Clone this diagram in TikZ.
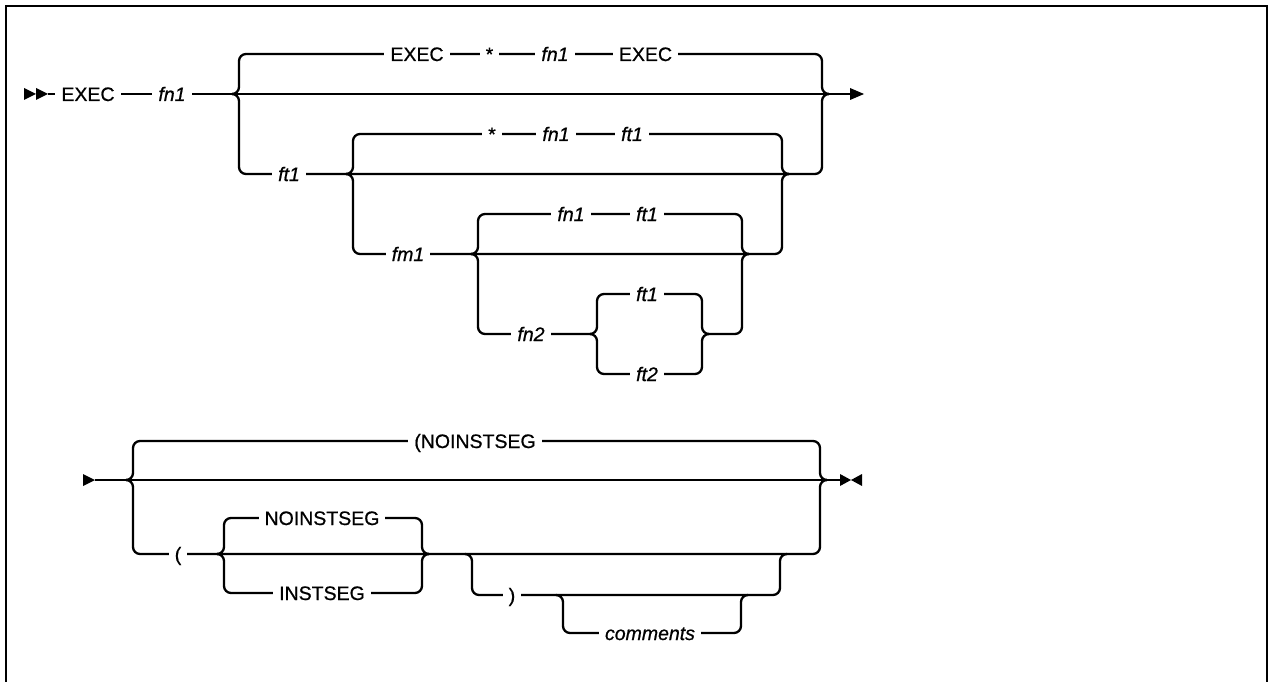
\documentclass[tikz,border=0pt]{standalone}
\usepackage{fontspec}
\setmainfont{Liberation Sans}[FakeBold=0.7]
\newcommand\kwfont{\fontsize{19.5}{22}\selectfont}
\tikzset{
  rail/.style={line width=2.3pt, rounded corners=7pt},
  kw/.style={fill=white, inner xsep=6pt, inner ysep=2pt, text height=14pt, text depth=0pt, font=\kwfont},
  var/.style={kw, font=\kwfont\itshape},
  tipfill/.style={fill=black, draw=none},
}
\begin{document}
\begin{tikzpicture}[x=1pt,y=-1pt]
\useasboundingbox (0,0) rectangle (1274,682);
\clip (0,0) rectangle (1274,682);
\fill[white] (0,0) rectangle (1274,682);
\draw[line width=2.6pt] (6,6) rectangle (1267,720);

% ---------- row 1 ----------
\coordinate (s1) at (48,94);
\coordinate (e1) at (852,94);
\fill[tipfill] (24,88) -- (36,94) -- (24,100) -- cycle;
\fill[tipfill] (36,88) -- (48,94) -- (36,100) -- cycle;
\draw[rail] (s1) -- (e1);
\fill[tipfill] (850,88) -- (864,94) -- (850,100) -- cycle;

% A split
\draw[rail] (232,94) -| (239,54) -- (822,54) |- (829,94);
\draw[rail] (232,94) -| (239,174) -- (822,174) |- (829,94);
% C split
\draw[rail] (346,174) -| (353,134) -- (782,134) |- (789,174);
\draw[rail] (346,174) -| (353,254) -- (782,254) |- (789,174);
% D split
\draw[rail] (471,254) -| (478,214) -- (742,214) |- (749,254);
\draw[rail] (471,254) -| (478,334) -- (590,334);
\draw[rail] (709,334) -- (742,334) |- (749,254);
% E split
\draw[rail] (590,334) -| (597,294) -- (702,294) |- (709,334);
\draw[rail] (590,334) -| (597,374) -- (702,374) |- (709,334);

\node[kw]  (exec0) at (88,94) {EXEC};
\node[var] (fn0)   at (172,94) {fn1};
\node[kw]  (execa) at (417,54) {EXEC};
\node[kw]  (stara) at (489.5,54) {*};
\node[var] (fna)   at (555,54) {fn1};
\node[kw]  (execb) at (645.5,54) {EXEC};
\node[var] (fta)   at (289,174) {ft1};
\node[kw]  (starc) at (492,134) {*};
\node[var] (fnc)   at (556,134) {fn1};
\node[var] (ftc)   at (632,134) {ft1};
\node[var] (fmd)   at (408,254) {fm1};
\node[var] (fnd)   at (571,214) {fn1};
\node[var] (ftd)   at (647,214) {ft1};
\node[var] (fn2)   at (531,334) {fn2};
\node[var] (fte)   at (647,294) {ft1};
\node[var] (ft2)   at (647,374) {ft2};

% ---------- row 2 ----------
\coordinate (s2) at (95,480);
\coordinate (e2) at (841,480);
\fill[tipfill] (83,474) -- (95,480) -- (83,486) -- cycle;
\draw[rail] (s2) -- (e2);
\fill[tipfill] (840,474) -- (851,480) -- (840,486) -- cycle;
\fill[tipfill] (862,474) -- (851,480) -- (862,486) -- cycle;

% F split
\draw[rail] (126,480) -| (133,441) -- (820,441) |- (827,480);
\draw[rail] (126,480) -| (133,554) -- (820,554) |- (827,480);
% G split
\draw[rail] (217,554) -| (224,518) -- (422,518) |- (429,554);
\draw[rail] (217,554) -| (224,593) -- (422,593) |- (429,554);
% H optional
\draw[rail] (465,554) -| (472,595) -- (780,595) |- (787,554);
% I optional
\draw[rail] (556,595) -| (563,633) -- (741,633) |- (748,595);

\node[kw]  (noinst1) at (475,441) {(NOINSTSEG};
\node[kw]  (lpar)    at (178,554) {(};
\node[kw]  (noinst2) at (322,518) {NOINSTSEG};
\node[kw]  (inst)    at (322,593) {INSTSEG};
\node[kw]  (rpar)    at (512,595) {)};
\node[var] (comm)    at (650,633) {comments};
\end{tikzpicture}
\end{document}
